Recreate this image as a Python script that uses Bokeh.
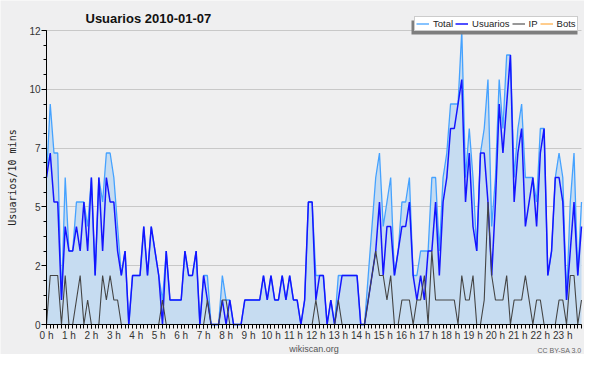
from bokeh.plotting import figure
from bokeh.models import (FixedTicker, Legend, LegendItem, Label, BoxAnnotation,
                          Range1d, ColumnDataSource, LinearAxis)
from bokeh.embed import file_html
from bokeh.resources import INLINE

# ---- data: 144 ten-minute slots (index 0 = 00:00) ----
slots = list(range(144))

usuarios = [
    6, 7, 5, 5, 1, 4,   3, 3, 4, 3, 5, 3,   6, 2, 6, 3, 6, 5,   5, 3, 2, 3, 0, 2,
    2, 2, 4, 2, 4, 3,   2, 0, 3, 1, 1, 1,   1, 3, 2, 2, 3, 0,   2, 1, 0, 0, 0, 1,
    0, 1, 0, 0, 0, 1,   1, 1, 1, 1, 2, 1,   2, 1, 1, 2, 1, 2,   1, 1, 0, 1, 5, 5,
    1, 2, 2, 0, 1, 0,   1, 2, 2, 2, 2, 2,   0, 0, 1, 2, 3, 5,   2, 4, 4, 2, 3, 4,
    4, 5, 2, 1, 2, 1,   3, 3, 5, 2, 5, 6,   8, 8, 9, 10, 5, 7,  4, 3, 7, 7, 5, 2,
    5, 9, 7, 9, 11, 5,  7, 8, 4, 5, 6, 4,   7, 8, 2, 3, 6, 6,   5, 1, 3, 5, 2, 4,
]

ip = [
    0, 2, 2, 2, 0, 2,   0, 0, 1, 2, 0, 1,   0, 0, 0, 2, 1, 2,   1, 1, 0, 0, 0, 0,
    0, 0, 0, 0, 0, 0,   0, 1, 0, 0, 0, 0,   0, 0, 0, 0, 0, 0,   0, 1, 0, 0, 0, 1,
    1, 0, 0, 0, 0, 0,   0, 0, 0, 0, 0, 0,   0, 0, 0, 0, 0, 0,   0, 0, 0, 0, 0, 0,
    1, 0, 0, 0, 0, 0,   1, 0, 0, 0, 0, 0,   0, 0, 1, 2, 3, 2,   2, 1, 2, 0, 0, 1,
    1, 1, 0, 1, 1, 2,   0, 3, 1, 1, 1, 1,   1, 1, 0, 2, 1, 1,   2, 0, 0, 1, 5, 2,
    1, 1, 1, 2, 0, 1,   1, 1, 2, 1, 0, 1,   1, 0, 0, 0, 0, 1,   1, 0, 2, 2, 0, 1,
]

bots = [
    0, 0, 0, 0, 0, 0,   0, 0, 0, 0, 0, 0,   0, 0, 0, 0, 0, 0,   0, 0, 0, 0, 0, 0,
    0, 0, 0, 0, 0, 0,   0, 0, 0, 0, 0, 0,   0, 0, 0, 0, 0, 0,   0, 0, 0, 0, 0, 0,
    0, 0, 0, 0, 0, 0,   0, 0, 0, 0, 0, 0,   0, 0, 0, 0, 0, 0,   0, 0, 0, 0, 0, 0,
    0, 0, 0, 0, 0, 0,   0, 0, 0, 0, 0, 0,   0, 0, 0, 0, 0, 0,   0, 0, 0, 0, 0, 0,
    0, 0, 0, 0, 0, 0,   0, 0, 0, 0, 0, 0,   0, 0, 0, 0, 0, 0,   0, 0, 0, 0, 0, 0,
    0, 0, 0, 0, 0, 0,   0, 0, 0, 0, 0, 0,   0, 0, 0, 0, 0, 0,   0, 0, 0, 0, 0, 0,
]

total = [
    6, 9, 7, 7, 1, 6,   3, 3, 5, 5, 5, 4,   6, 2, 6, 5, 7, 7,   6, 4, 2, 3, 0, 2,
    2, 2, 4, 2, 4, 3,   2, 1, 3, 1, 1, 1,   1, 3, 2, 2, 3, 0,   2, 2, 0, 0, 0, 2,
    1, 1, 0, 0, 0, 1,   1, 1, 1, 1, 2, 1,   2, 1, 1, 2, 1, 2,   1, 1, 0, 1, 5, 5,
    2, 2, 2, 0, 1, 0,   2, 2, 2, 2, 2, 2,   0, 0, 2, 4, 6, 7,   4, 5, 6, 2, 3, 5,
    5, 6, 2, 2, 3, 3,   3, 6, 6, 3, 6, 7,   9, 9, 9, 12, 6, 8,  6, 3, 7, 8, 10, 4,
    6, 10, 8, 11, 11, 6, 8, 9, 6, 6, 6, 5,  8, 8, 2, 3, 6, 7,   6, 1, 5, 7, 2, 5,
]

hour_ticks = [0, 6, 12, 18, 24, 30, 36, 42, 48, 54, 60, 66,
              72, 78, 84, 90, 96, 102, 108, 114, 120, 126, 132, 138]
hour_labels = ["0 h", "1 h", "2 h", "3 h", "4 h", "5 h", "6 h", "7 h",
               "8 h", "9 h", "10 h", "11 h", "12 h", "13 h", "14 h", "15 h",
               "16 h", "17 h", "18 h", "19 h", "20 h", "21 h", "22 h", "23 h"]
y_ticks = [0, 2.4, 4.8, 7.2, 9.6, 12]
y_labels = ["0", "2", "5", "7", "10", "12"]
y_minor = [0.6 * k for k in range(21)]

source = ColumnDataSource(dict(slot=slots, total=total, usuarios=usuarios,
                               ip=ip, bots=bots))

FONT = "Liberation Sans"
W, H = 584, 354
PX_LEFT, PX_RIGHT = 46, 581        # canvas columns of slot 0 and slot 143
PX_TOP, PX_BOTTOM = 30, 324        # canvas rows of y=12 and y=0
ppx = (PX_RIGHT - PX_LEFT) / (slots[-1] - slots[0])
ppu = (PX_BOTTOM - PX_TOP) / (y_ticks[-1] - y_ticks[0])
x_rng = Range1d(slots[0] - PX_LEFT / ppx, slots[-1] + (W - PX_RIGHT) / ppx)
y_rng = Range1d(y_ticks[0] - (H - PX_BOTTOM) / ppu, y_ticks[-1] + PX_TOP / ppu)

p = figure(width=W, height=H, output_backend="svg", toolbar_location=None,
           x_range=x_rng, y_range=y_rng,
           min_border_left=0, min_border_right=0, min_border_top=0,
           min_border_bottom=0, x_axis_location=None, y_axis_location=None)
p.background_fill_color = "#EFEFF0"
p.border_fill_color = "#EFEFF0"
p.outline_line_color = None
p.xgrid.visible = False
p.ygrid.visible = False

# ---- horizontal grid lines (axis ticks reaching into the plot, drawn underneath) ----
gax = LinearAxis(fixed_location=slots[0], bounds=(y_ticks[0], y_ticks[-1]),
                 ticker=FixedTicker(ticks=y_ticks, minor_ticks=[]), level="underlay")
gax.major_tick_in = PX_RIGHT - PX_LEFT
gax.major_tick_out = 0
gax.major_tick_line_color = "#C8C8C8"
gax.minor_tick_line_color = None
gax.axis_line_color = None
gax.major_label_text_color = None
p.add_layout(gax, "left")

# ---- y axis ----
yax = LinearAxis(fixed_location=slots[0], bounds=(y_ticks[0], y_ticks[-1]),
                 ticker=FixedTicker(ticks=y_ticks, minor_ticks=y_minor))
yax.major_label_overrides = {t: l for t, l in zip(y_ticks, y_labels)}
yax.major_label_text_font = FONT
yax.major_label_text_font_size = "10px"
yax.major_label_text_color = "#333333"
yax.major_tick_out = 5
yax.major_tick_in = 0
yax.minor_tick_out = 3
yax.minor_tick_in = 0
yax.major_label_standoff = 1
yax.axis_line_color = "black"
yax.major_tick_line_color = "black"
yax.minor_tick_line_color = "black"
yax.axis_label = "Usuarios/10 mins"
yax.axis_label_text_font = "DejaVu Sans Mono"
yax.axis_label_text_font_size = "10px"
yax.axis_label_text_font_style = "normal"
yax.axis_label_text_color = "#222222"
yax.axis_label_standoff = 8
p.add_layout(yax, "left")

# ---- x axis ----
xax = LinearAxis(fixed_location=y_ticks[0], bounds=(slots[0], slots[-1]),
                 ticker=FixedTicker(ticks=hour_ticks, minor_ticks=slots))
xax.major_label_overrides = {t: l for t, l in zip(hour_ticks, hour_labels)}
xax.major_label_text_font = FONT
xax.major_label_text_font_size = "10px"
xax.major_label_text_color = "#333333"
xax.major_tick_out = 4
xax.major_tick_in = 0
xax.minor_tick_out = 4
xax.minor_tick_in = 0
xax.major_label_standoff = 1
xax.axis_line_color = "black"
xax.major_tick_line_color = "black"
xax.minor_tick_line_color = "black"
xax.axis_label = "wikiscan.org"
xax.axis_label_text_font = FONT
xax.axis_label_text_font_size = "9px"
xax.axis_label_text_font_style = "normal"
xax.axis_label_text_color = "#555555"
xax.axis_label_standoff = 0
p.add_layout(xax, "below")

# ---- data ----
r_bots = p.line("slot", "bots", source=source, line_color="#FF9A1A", line_width=1)
p.varea(x="slot", y1=0, y2="total", source=source, fill_color="#C6DCF1", fill_alpha=1)
r_total = p.line("slot", "total", source=source, line_color="#45A2FF", line_width=1.3)
r_users = p.line("slot", "usuarios", source=source, line_color="#1414FF", line_width=1.5)
r_ip = p.line("slot", "ip", source=source, line_color="#444444", line_width=1.1)

# ---- title ----
title = Label(x=85, y=H - 18, x_units="screen", y_units="screen",
              text="Usuarios  2010-01-07", text_font=FONT, text_font_style="bold",
              text_font_size="13px", text_color="#111111",
              text_baseline="alphabetic", text_align="left")
p.add_layout(title)

# ---- legend shadow + legend ----
LX, LY = 414, H - 31
LW, LH = 167, 14
shadow = BoxAnnotation(left=LX - 3, right=LX + LW - 4, bottom=LY - 3, top=LY + LH - 3,
                       left_units="screen", right_units="screen",
                       bottom_units="screen", top_units="screen",
                       fill_color="#7E7E7E", fill_alpha=1, line_color=None)
p.add_layout(shadow)

legend = Legend(items=[LegendItem(label="Total", renderers=[r_total]),
                       LegendItem(label="Usuarios", renderers=[r_users]),
                       LegendItem(label="IP", renderers=[r_ip]),
                       LegendItem(label="Bots", renderers=[r_bots])],
                orientation="horizontal", location=(LX, LY),
                glyph_width=13, glyph_height=9, label_height=9, label_width=0,
                label_standoff=4, spacing=2, padding=1, margin=0,
                label_text_font=FONT, label_text_font_size="9.5px",
                label_text_color="#222222",
                border_line_color="#9A9A9A", border_line_width=1,
                background_fill_color="white", background_fill_alpha=1)
p.add_layout(legend)

cc = Label(x=537, y=4, x_units="screen", y_units="screen", text="CC BY-SA 3.0",
           text_font=FONT, text_font_size="7px", text_color="#666666",
           text_baseline="alphabetic", text_align="left")
p.add_layout(cc)

open("out.html", "w").write(file_html(p, INLINE))
